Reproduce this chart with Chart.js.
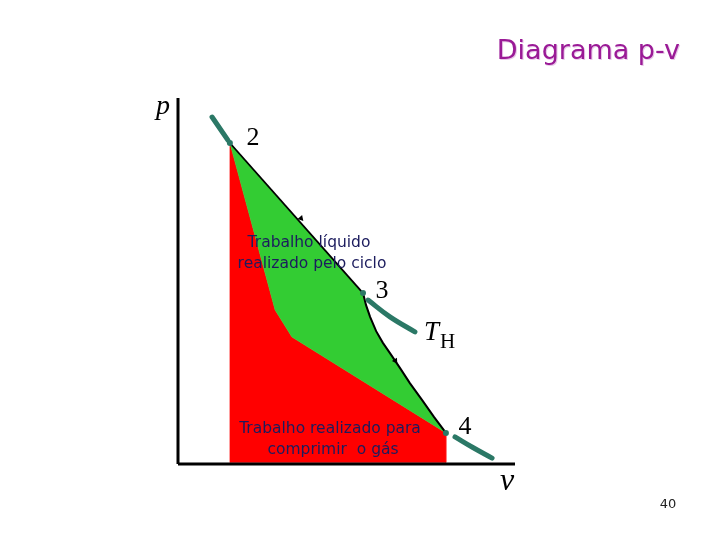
<!DOCTYPE html>
<html>
<head>
<meta charset="utf-8">
<script src="https://cdn.jsdelivr.net/npm/chart.js@4/dist/chart.umd.min.js"></script>
<style>
html,body{margin:0;padding:0;background:#fff;}
#wrap{width:720px;height:540px;position:relative;}
</style>
</head>
<body>
<div id="wrap"><canvas id="c" width="720" height="540"></canvas></div>
<script>
// ---- data (diagram units: v on x, p on y) ----
const stateLabels = ["2", "3", "4"];
const stateV = [1.54, 5.49, 7.95];
const stateP = [8.77, 4.67, 0.85];

// expansion path 3 -> 4 (curved)
const expV = [5.49, 5.58, 5.70, 5.88, 6.08, 6.29, 6.59, 6.88, 7.24, 7.60, 7.95];
const expP = [4.67, 4.34, 4.02, 3.63, 3.31, 3.03, 2.62, 2.21, 1.75, 1.28, 0.85];

// compression path 4 -> 2 (left edge of the green area)
const compV = [7.95, 3.38, 2.88, 1.54];
const compP = [0.85, 3.47, 4.21, 8.77];

// isotherm T_H segments
const iso2V = [1.01, 1.48];
const iso2P = [9.48, 8.85];
const iso3V = [5.64, 6.29, 7.03];
const iso3P = [4.48, 4.02, 3.61];
const iso4V = [8.22, 8.75, 9.32];
const iso4P = [0.74, 0.45, 0.16];

// arrow marks on the cycle
const arrowV = [3.65, 6.45];
const arrowP = [6.71, 2.82];
const arrowAngle = [139, 146];

// axis ranges
const vMax = 10, pMax = 10;

const pts = (xs, ys) => xs.map((x, i) => ({x: x, y: ys[i]}));

// red area: under compression path down to v axis
const redPts = pts(
  [stateV[0]].concat(compV.slice().reverse().slice(1), [stateV[2], stateV[2], stateV[0], stateV[0]]),
  [stateP[0]].concat(compP.slice().reverse().slice(1), [stateP[2], 0.04, 0.04, stateP[0]])
);
// green area: cycle enclosed
const greenPts = pts(
  [stateV[0]].concat(expV, compV.slice(1)),
  [stateP[0]].concat(expP, compP.slice(1))
);

const teal = '#2b7866';
const base = {pointRadius: 0, tension: 0, clip: false, fill: false};

// listed bottom layer first; reversed below because Chart.js paints dataset 0 on top
const layers = [
  Object.assign({}, base, {data: redPts, backgroundColor: '#ff0000', borderColor: '#ff0000', borderWidth: 0.5, fill: 'shape'}),
  Object.assign({}, base, {data: greenPts, backgroundColor: '#33cc33', borderColor: '#33cc33', borderWidth: 0.5, fill: 'shape'}),
  // black process lines
  Object.assign({}, base, {data: pts([stateV[0], stateV[1]], [stateP[0], stateP[1]]), borderColor: '#000', borderWidth: 1.8}),
  Object.assign({}, base, {data: pts(expV, expP), borderColor: '#000', borderWidth: 2}),
  // isotherm
  Object.assign({}, base, {data: pts(iso2V, iso2P), borderColor: teal, borderWidth: 5, borderCapStyle: 'round'}),
  Object.assign({}, base, {data: pts(iso3V, iso3P), borderColor: teal, borderWidth: 5, borderCapStyle: 'round', tension: 0.4}),
  Object.assign({}, base, {data: pts(iso4V, iso4P), borderColor: teal, borderWidth: 5, borderCapStyle: 'round', tension: 0.4}),
  // state point dots
  Object.assign({}, base, {data: pts(stateV, stateP), showLine: false, pointRadius: 3, pointBackgroundColor: teal, pointBorderWidth: 0}),
  // arrows
  Object.assign({}, base, {data: pts(arrowV, arrowP), showLine: false, pointStyle: 'triangle', pointRadius: 3.5, rotation: arrowAngle, pointBackgroundColor: '#000', pointBorderColor: '#000', pointBorderWidth: 0}),
  // axes
  Object.assign({}, base, {data: pts([0, 0], [0, pMax]), borderColor: '#000', borderWidth: 3}),
  Object.assign({}, base, {data: pts([0, vMax], [0, 0]), borderColor: '#000', borderWidth: 3})
];
const datasets = layers.slice().reverse();

const textPlugin = {
  id: 'texts',
  afterDraw(chart) {
    const ctx = chart.ctx;
    const xs = chart.scales.x, ys = chart.scales.y;
    const X = v => xs.getPixelForValue(v), Y = p => ys.getPixelForValue(p);
    ctx.save();
    ctx.textBaseline = 'alphabetic';
    // title
    ctx.font = '27px "DejaVu Sans"';
    ctx.textAlign = 'right';
    ctx.fillStyle = '#e8c8e8';
    ctx.fillText('Diagrama p-v', 681, 60);
    ctx.fillStyle = '#9a1a96';
    ctx.fillText('Diagrama p-v', 680, 59);
    // page number
    ctx.font = '13px "DejaVu Sans"';
    ctx.fillStyle = '#222';
    ctx.textAlign = 'center';
    ctx.fillText('40', 668, 508);
    // axis letters
    ctx.fillStyle = '#000';
    ctx.font = 'italic 28px "Liberation Serif"';
    ctx.textAlign = 'center';
    ctx.fillText('p', X(0) - 15, Y(pMax) + 16);
    ctx.font = 'italic 32px "Liberation Serif"';
    ctx.fillText('v', X(vMax) - 8, Y(0) + 26);
    // state labels
    ctx.font = '26px "Liberation Serif"';
    ctx.fillText(stateLabels[0], X(stateV[0]) + 23, Y(stateP[0]) + 2);
    ctx.fillText(stateLabels[1], X(stateV[1]) + 19, Y(stateP[1]) + 5);
    ctx.fillText(stateLabels[2], X(stateV[2]) + 19, Y(stateP[2]) + 1);
    // T_H
    ctx.font = 'italic 27px "Liberation Serif"';
    ctx.textAlign = 'left';
    ctx.fillText('T', 424, 340);
    ctx.font = '21px "Liberation Serif"';
    ctx.fillText('H', 440, 348);
    // area labels
    ctx.font = '15.5px "DejaVu Sans"';
    ctx.fillStyle = '#1c1c5e';
    ctx.textAlign = 'center';
    ctx.fillText('Trabalho líquido', 309, 247);
    ctx.fillText('realizado pelo ciclo', 312, 268);
    ctx.fillText('Trabalho realizado para', 330, 433);
    ctx.fillText('comprimir  o gás', 333, 454);
    ctx.restore();
  }
};

new Chart(document.getElementById('c'), {
  type: 'line',
  data: {datasets: datasets},
  options: {
    responsive: false,
    animation: false,
    events: [],
    layout: {padding: {left: 178, right: 205, top: 98, bottom: 76}},
    scales: {
      x: {type: 'linear', min: 0, max: vMax, display: false},
      y: {type: 'linear', min: 0, max: pMax, display: false}
    },
    plugins: {legend: {display: false}, tooltip: {enabled: false}, title: {display: false}}
  },
  plugins: [textPlugin]
});
</script>
</body>
</html>
